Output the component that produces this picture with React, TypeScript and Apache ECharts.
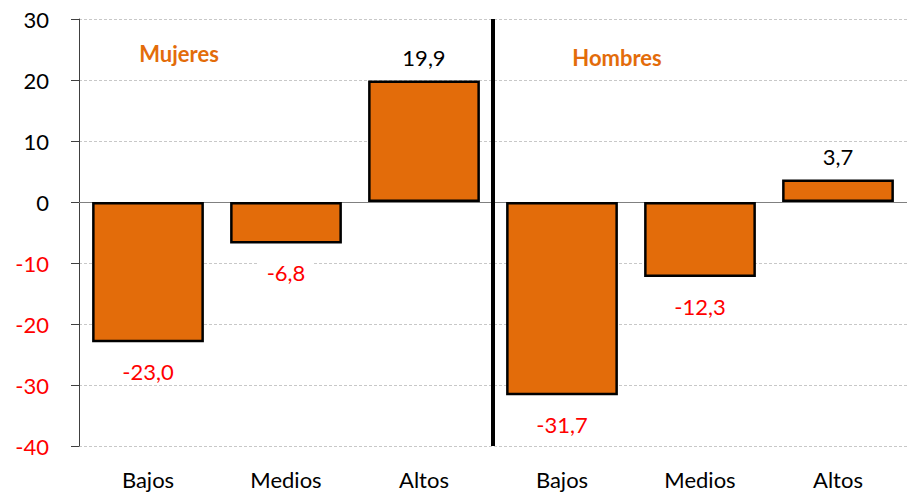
import React, { useEffect, useRef } from "react";
import * as echarts from "echarts";

const categories = ["Bajos", "Medios", "Altos", "Bajos", "Medios", "Altos"];
const values = [-23.0, -6.8, 19.9, -31.7, -12.3, 3.7];
const groupLabels = ["Mujeres", "Hombres"];

const ORANGE = "#E36C0A";
const FONT = "Lato, 'Open Sans', sans-serif";
const FS = 22;

export default function App() {
  const ref = useRef<HTMLDivElement>(null);
  useEffect(() => {
    document.body.style.margin = "0";
    if (!ref.current) return;
    const chart = echarts.init(ref.current, null, { renderer: "svg" });
    const fmt = (v: number) => v.toFixed(1).replace(".", ",");
    chart.setOption({
      animation: false,
      grid: { left: 79, right: 0, top: 19, bottom: 50 },
      xAxis: {
        type: "category",
        data: categories,
        axisTick: { show: false },
        axisLine: { onZero: true, lineStyle: { color: "#808080", width: 1 } },
        axisLabel: {
          color: "#000",
          fontSize: FS,
          fontFamily: FONT,
          margin: 22,
        },
        position: "bottom",
      },
      yAxis: {
        type: "value",
        min: -40,
        max: 30,
        interval: 10,
        axisLine: { show: true, lineStyle: { color: "#404040", width: 1 } },
        axisTick: { show: true, inside: false, length: 8, lineStyle: { color: "#404040" } },
        splitLine: { lineStyle: { color: "#c8c8c8", type: [3, 2], width: 1 } },
        axisLabel: {
          fontSize: FS,
          fontFamily: FONT,
          margin: 30,
          color: (v: any) => (Number(v) < 0 ? "#FF0000" : "#000"),
        },
      },
      series: [
        {
          type: "bar",
          data: values.map((v) => ({
            value: v,
            label: {
              show: true,
              position: v < 0 ? "bottom" : "top",
              distance: v < 0 ? 16 : 10,
              color: v < 0 ? "#FF0000" : "#000",
              fontSize: FS,
              fontFamily: FONT,
              backgroundColor: "#fff",
              padding: [2, 8],
              formatter: () => fmt(v),
            },
          })),
          barWidth: "81%",
          itemStyle: { color: ORANGE, borderColor: "#000", borderWidth: 2.5 },
        },
      ],
    });
    const p0 = chart.convertToPixel({ xAxisIndex: 0 }, 0) as number;
    const p1 = chart.convertToPixel({ xAxisIndex: 0 }, 1) as number;
    const p2 = chart.convertToPixel({ xAxisIndex: 0 }, 2) as number;
    const p3 = chart.convertToPixel({ xAxisIndex: 0 }, 3) as number;
    const p4 = chart.convertToPixel({ xAxisIndex: 0 }, 4) as number;
    const yTop = chart.convertToPixel({ yAxisIndex: 0 }, 30) as number;
    const yBot = chart.convertToPixel({ yAxisIndex: 0 }, -40) as number;
    const xm = (p2 + p3) / 2;
    const yM = chart.convertToPixel({ yAxisIndex: 0 }, 24.3) as number;
    const yH = chart.convertToPixel({ yAxisIndex: 0 }, 23.7) as number;
    chart.setOption({
      graphic: [
        {
          type: "line",
          shape: { x1: xm, y1: yTop, x2: xm, y2: yBot },
          style: { stroke: "#000", lineWidth: 4 },
          z: 10,
        },
        {
          type: "text",
          x: (p0 + p1) / 2 - 38,
          y: yM,
          style: {
            text: groupLabels[0],
            fill: ORANGE,
            font: `bold ${FS}px ${FONT}`,
            textAlign: "center",
            textVerticalAlign: "middle",
          },
        },
        {
          type: "text",
          x: (p4 + p3) / 2 - 14,
          y: yH,
          style: {
            text: groupLabels[1],
            fill: ORANGE,
            font: `bold ${FS}px ${FONT}`,
            textAlign: "center",
            textVerticalAlign: "middle",
          },
        },
      ],
    });
    return () => chart.dispose();
  }, []);
  return <div ref={ref} style={{ width: 907, height: 496 }} />;
}
